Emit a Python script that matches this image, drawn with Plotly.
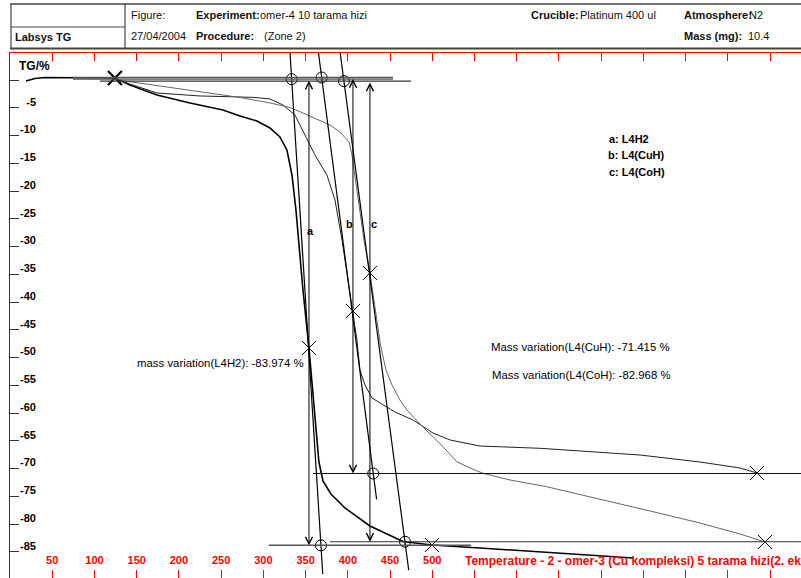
import plotly.graph_objects as go

# ---------------- data (temperature in °C, TG in %) ----------------
T_A = [18.8, 29.5, 41.3, 82.8, 124.2, 142.0, 174.0, 213.1, 252.1, 272.3, 292.4, 307.8,
       319.6, 327.9, 333.9, 338.6, 342.7, 346.9, 354.0, 359.3, 362.9, 365.8, 370.6,
       380.0, 396.6, 426.2, 465.3, 499.6, 556.5, 639.4, 737.7]
TG_A = [-0.18, 0.27, 0.45, 0.45, 0.36, -0.90, -2.70, -4.14, -5.41, -6.49, -7.39, -8.65,
        -10.27, -12.61, -17.12, -23.42, -30.63, -37.84, -48.29, -57.66, -64.86, -68.83, -72.25,
        -74.59, -77.12, -80.36, -83.15, -83.78, -84.32, -85.14, -86.13]

T_B = [124.2, 133.7, 174.0, 224.9, 272.3, 290.0, 307.8, 323.2, 337.4, 346.9, 361.1, 375.3,
       384.8, 393.1, 400.2, 406.1, 410.8, 414.4, 420.3, 428.6, 438.1, 455.8, 477.1, 500.8,
       521.0, 541.1, 556.5, 627.6, 698.6, 746.0, 817.0, 864.4, 884.5]
TG_B = [0.36, -0.31, -2.34, -2.88, -3.06, -3.15, -3.42, -4.50, -6.31, -9.19, -13.51, -17.12,
        -21.62, -28.83, -36.04, -41.62, -46.85, -52.25, -54.95, -57.30, -58.20, -59.82, -61.26,
        -63.60, -64.86, -65.41, -65.95, -66.36, -67.03, -67.57, -68.83, -69.91, -70.81]

T_C = [124.2, 133.7, 177.5, 224.9, 272.3, 307.8, 331.5, 346.9, 361.1, 378.9, 390.7, 401.4,
       404.9, 407.3, 412.0, 419.1, 426.2, 432.7, 438.7, 445.2, 452.3, 461.7, 470.0, 485.4,
       500.8, 512.7, 528.9, 544.7, 560.0, 592.0, 635.5, 698.6, 757.8, 817.0, 864.4, 894.0]
TG_C = [0.36, -0.13, -1.08, -2.16, -3.15, -4.14, -4.95, -5.95, -6.85, -8.11, -9.37, -11.17,
        -13.51, -16.22, -21.62, -28.83, -34.77, -41.44, -47.75, -52.25, -54.95, -57.66, -59.46,
        -61.98, -64.32, -66.07, -68.77, -69.91, -70.86, -72.07, -73.28, -75.50, -77.66, -79.82,
        -81.80, -83.24]

SERIES = ["a", "b", "c"]
NAMES = ["L4H2", "L4(CuH)", "L4(CoH)"]
MASS_VAR = [-83.974, -71.415, -82.968]

# evaluation points
START_T, START_TG = 124.2, 0.36
MID_T = [354.0, 406.1, 426.2]
MID_TG = [-48.29, -41.62, -34.77]
END_T = [499.6, 884.5, 894.0]
END_TG = [-83.78, -70.81, -83.24]

# step levels
LEVEL_TOP = [0.15, 0.45, -0.20]
LEVEL_BOT = [-83.85, -70.90, -83.20]
TOP_LINE_T = [[74.6, 453.5], [74.6, 453.5], [106.5, 474.8]]
BOT_LINE_T = [[306.6, 545.8], [358.7, 940.0], [378.9, 940.0]]

# onset / endset (circles)
ONSET_T = [333.5, 369.0, 395.4]
ENDSET_T = [368.2, 430.1, 467.7]

# tangent lines
TAN_T = [[331.1, 370.3], [364.3, 434.1], [390.0, 472.1]]
TAN_TG = [[6.0, -89.0], [6.0, -75.55], [6.0, -88.3]]

X_TICKS = list(range(50, 901, 50))
X_LABELS = [str(v) if v <= 500 else "" for v in X_TICKS]
Y_TICKS = list(range(0, -86, -5))
Y_LABELS = ["" if v == 0 else str(v) for v in Y_TICKS]

X_RANGE = [0, 936.6]
Y_RANGE = [-89.73, 4.865]

# ---------------- layout helpers ----------------
W, H = 801, 578
ML, MR, MT, MB = 10, 0, 53, 0
FONT = "Liberation Sans, Arial, sans-serif"


def px(x):
    return (x - ML) / (W - ML - MR)


def py(y):
    return (H - MB - y) / (H - MT - MB)


UNIT_PX = (H - MT - MB) / (Y_RANGE[1] - Y_RANGE[0])
LABEL_SHIFT = 6 / UNIT_PX

fig = go.Figure()

curve_styles = [dict(color="black", width=1.6), dict(color="#222222", width=1.0),
                dict(color="#666666", width=1.0)]
for T, TG, st in zip([T_A, T_B, T_C], [TG_A, TG_B, TG_C], curve_styles):
    fig.add_trace(go.Scatter(x=T, y=TG, mode="lines", line=st, hoverinfo="skip"))

# tangent lines
for tt, tg in zip(TAN_T, TAN_TG):
    fig.add_trace(go.Scatter(x=tt, y=tg, mode="lines", line=dict(color="black", width=1.2),
                             hoverinfo="skip"))

# level lines (on overlay axes that share the same ranges)
top_styles = [dict(color="#555555", width=1.4), dict(color="#555555", width=1.4),
              dict(color="#333333", width=1.1)]
bot_styles = [dict(color="#555555", width=1.5), dict(color="#111111", width=1.0),
              dict(color="#333333", width=1.2)]
for i in range(3):
    fig.add_trace(go.Scatter(x=TOP_LINE_T[i], y=[LEVEL_TOP[i]] * 2, mode="lines",
                             line=top_styles[i], xaxis="x2", yaxis="y2", hoverinfo="skip"))
    fig.add_trace(go.Scatter(x=BOT_LINE_T[i], y=[LEVEL_BOT[i]] * 2, mode="lines",
                             line=bot_styles[i], xaxis="x2", yaxis="y2", hoverinfo="skip"))

# circles: onset and endset
fig.add_trace(go.Scatter(x=ONSET_T + ENDSET_T, y=LEVEL_TOP + LEVEL_BOT, mode="markers",
                         marker=dict(symbol="circle-open", size=11, color="black",
                                     line=dict(width=1, color="black")),
                         hoverinfo="skip"))
# X marks
fig.add_trace(go.Scatter(x=MID_T + END_T, y=MID_TG + END_TG, mode="markers",
                         marker=dict(symbol="x-thin-open", size=14, color="black",
                                     line=dict(width=1, color="black")),
                         hoverinfo="skip"))
fig.add_trace(go.Scatter(x=[START_T], y=[START_TG], mode="markers",
                         marker=dict(symbol="x-thin-open", size=14, color="black",
                                     line=dict(width=2.2, color="black")),
                         hoverinfo="skip"))

annotations = []
# arrows (mass variation) at inflection temperatures
for i in range(3):
    annotations.append(dict(x=MID_T[i], y=LEVEL_BOT[i], ax=MID_T[i], ay=LEVEL_TOP[i],
                            xref="x", yref="y", axref="x", ayref="y", text="",
                            showarrow=True, arrowhead=5, startarrowhead=5,
                            arrowside="end+start", arrowsize=1.4, startarrowsize=1.4,
                            arrowwidth=1, arrowcolor="black"))

# arrow letters
letter_pos = [(310, 231), (349, 224), (374, 224)]
for s, (lx, ly) in zip(SERIES, letter_pos):
    annotations.append(dict(x=px(lx), y=py(ly), xref="paper", yref="paper", text=s,
                            showarrow=False, xanchor="center", yanchor="middle",
                            font=dict(family=FONT, size=11, color="black", weight="bold")))

# legend texts
legend_pos = [(607, 139), (606, 155), (607, 172)]
for s, n, (lx, ly) in zip(SERIES, NAMES, legend_pos):
    annotations.append(dict(x=px(lx), y=py(ly), xref="paper", yref="paper",
                            text=f"{s}: {n}", showarrow=False, xanchor="left",
                            yanchor="middle",
                            font=dict(family=FONT, size=11, color="black", weight="bold")))

# mass variation texts
mv = [
    (f"mass variation({NAMES[0]}): {MASS_VAR[0]:.3f} %", 306, 363, "right"),
    (f"Mass variation({NAMES[1]}: {MASS_VAR[1]:.3f} %", 489, 347, "left"),
    (f"Mass variation({NAMES[2]}: {MASS_VAR[2]:.3f} %", 490, 375, "left"),
]
for t, lx, ly, anc in mv:
    annotations.append(dict(x=px(lx), y=py(ly), xref="paper", yref="paper", text=t,
                            showarrow=False, xanchor=anc, yanchor="middle",
                            font=dict(family=FONT, size=11.4, color="black")))

# axis captions
annotations.append(dict(x=px(17), y=py(66), xref="paper", yref="paper", text="TG/%",
                        showarrow=False, xanchor="left", yanchor="middle",
                        font=dict(family=FONT, size=12, color="black", weight="bold")))
annotations.append(dict(x=px(463), y=py(561), xref="paper", yref="paper",
                        text="Temperature - 2 - omer-3 (Cu kompleksi) 5 tarama hizi(2. ekr",
                        showarrow=False, xanchor="left", yanchor="middle",
                        font=dict(family=FONT, size=12, color="red", weight="bold")))

# header texts
header = [
    ("Figure:", 129, 15, False),
    ("Experiment:", 194, 15, True),
    ("omer-4 10 tarama hizi", 258, 15, False),
    ("Labsys TG", 13, 37, True),
    ("27/04/2004", 129, 36, False),
    ("Procedure:", 194, 36, True),
    ("(Zone 2)", 262, 36, False),
    ("Crucible:", 529, 15, True),
    ("Platinum 400 ul", 578, 15, False),
    ("Atmosphere:", 682, 15, True),
    ("N2", 747, 15, False),
    ("Mass (mg):", 682, 36, True),
    ("10.4", 746, 36, False),
]
for t, lx, ly, b in header:
    annotations.append(dict(x=px(lx), y=py(ly), xref="paper", yref="paper", text=t,
                            showarrow=False, xanchor="left", yanchor="middle",
                            font=dict(family=FONT, size=11, color="#111111",
                                      weight="bold" if b else "normal")))

hdr_col = "#444444"
shapes = [
    dict(type="line", xref="paper", yref="paper", x0=px(10), x1=px(801), y0=py(4), y1=py(4),
         line=dict(color=hdr_col, width=1.4)),
    dict(type="line", xref="paper", yref="paper", x0=px(10), x1=px(801), y0=py(48.5),
         y1=py(48.5), line=dict(color=hdr_col, width=2)),
    dict(type="line", xref="paper", yref="paper", x0=px(11), x1=px(11), y0=py(4), y1=py(48.5),
         line=dict(color=hdr_col, width=1.2)),
    dict(type="line", xref="paper", yref="paper", x0=px(125), x1=px(125), y0=py(4),
         y1=py(48.5), line=dict(color=hdr_col, width=1.2)),
    dict(type="line", xref="paper", yref="paper", x0=px(11), x1=px(125), y0=py(27), y1=py(27),
         line=dict(color=hdr_col, width=1.2)),
]

fig.update_layout(
    width=W, height=H,
    margin=dict(l=ML, r=MR, t=MT, b=MB, pad=0),
    paper_bgcolor="white", plot_bgcolor="white",
    showlegend=False,
    font=dict(family=FONT, size=11, color="black"),
    annotations=annotations,
    shapes=shapes,
    xaxis=dict(range=X_RANGE, showgrid=False, zeroline=False, showline=True,
               linecolor="red", linewidth=1, mirror="ticks", ticks="inside", ticklen=8,
               tickwidth=1, tickcolor="red", tickvals=X_TICKS, showticklabels=False),
    yaxis=dict(range=Y_RANGE, showgrid=False, zeroline=False, showline=True,
               linecolor="#333333", linewidth=1.2, ticks="inside", ticklen=9, tickwidth=1.2,
               tickcolor="#333333", tickvals=Y_TICKS, showticklabels=False),
    xaxis2=dict(range=X_RANGE, overlaying="x", anchor="free", position=py(552),
                side="bottom", showgrid=False, zeroline=False, showline=False, ticks="",
                tickvals=X_TICKS, ticktext=X_LABELS,
                tickfont=dict(family=FONT, size=11, color="red", weight="bold")),
    yaxis2=dict(range=Y_RANGE, overlaying="y", anchor="free", position=px(36),
                side="left", showgrid=False, zeroline=False, showline=False, ticks="",
                tickvals=[v + LABEL_SHIFT for v in Y_TICKS], ticktext=Y_LABELS,
                tickfont=dict(family=FONT, size=11, color="black", weight="bold")),
)

fig.write_html("out.html")
